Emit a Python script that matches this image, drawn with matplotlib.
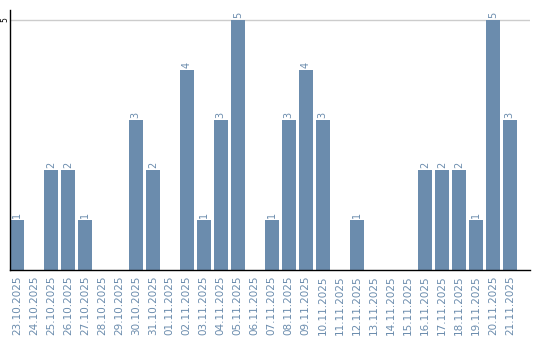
import matplotlib
matplotlib.use("Agg")
import matplotlib.pyplot as plt

dates = ["23.10.2025", "24.10.2025", "25.10.2025", "26.10.2025", "27.10.2025",
         "28.10.2025", "29.10.2025", "30.10.2025", "31.10.2025", "01.11.2025",
         "02.11.2025", "03.11.2025", "04.11.2025", "05.11.2025", "06.11.2025",
         "07.11.2025", "08.11.2025", "09.11.2025", "10.11.2025", "11.11.2025",
         "12.11.2025", "13.11.2025", "14.11.2025", "15.11.2025", "16.11.2025",
         "17.11.2025", "18.11.2025", "19.11.2025", "20.11.2025", "21.11.2025"]
values = [1, 0, 2, 2, 1, 0, 0, 3, 2, 0, 4, 1, 3, 5, 0, 1, 3, 4, 3, 0,
          1, 0, 0, 0, 2, 2, 2, 1, 5, 3]

bar_color = "#6b8cad"
label_color = "#6b8cad"

fig = plt.figure(figsize=(5.4, 3.4), dpi=100)
ax = fig.add_axes([10/540, 70/340, 520/540, 260/340])

x = list(range(len(dates)))
ax.bar(x, values, width=0.8, color=bar_color, zorder=2)
for xi, v in zip(x, values):
    if v > 0:
        ax.text(xi, v + 0.04, str(v), rotation=90, ha="center", va="bottom",
                fontsize=7, color=label_color)

ax.set_xlim(-0.4, 30.19)
ax.set_ylim(0, 5.2)
ax.set_yticks([5])
ax.set_yticklabels(["5"], rotation=90, va="center", fontsize=5.5)
ax.tick_params(axis="y", length=0, pad=0.8)
ax.set_xticks(x)
ax.set_xticklabels(dates, rotation=90, fontsize=7.5, color=label_color)
ax.tick_params(axis="x", length=0, pad=4)
ax.yaxis.grid(True, color="#cccccc", linewidth=1, zorder=0)
ax.set_axisbelow(True)
for s in ["top", "right"]:
    ax.spines[s].set_visible(False)
ax.spines["left"].set_color("black")
ax.spines["bottom"].set_color("black")
ax.spines["left"].set_linewidth(1)
ax.spines["bottom"].set_linewidth(1)

fig.savefig("out.png", dpi=100)
